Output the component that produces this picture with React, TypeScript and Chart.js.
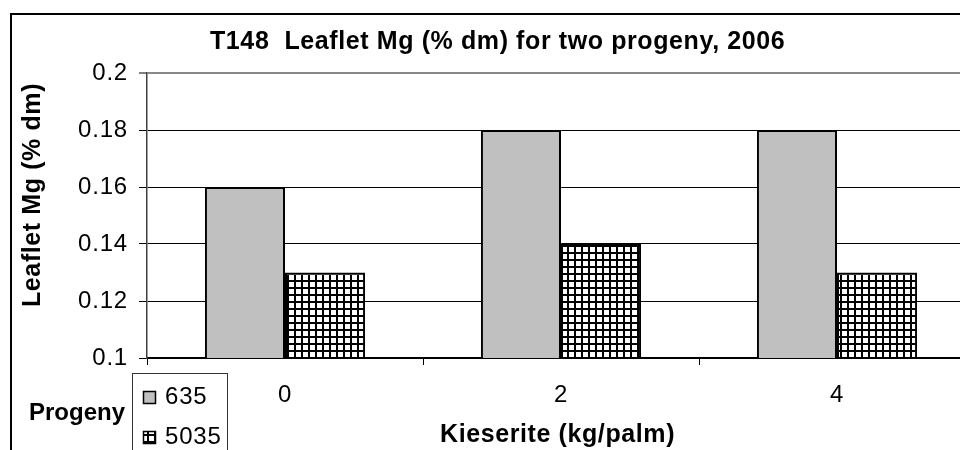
import { useEffect, useRef } from 'react';
import { Chart, registerables } from 'chart.js';

Chart.register(...registerables);

const categories = ['0', '2', '4'];
const seriesNames = ['635', '5035'];
const progeny635 = [0.16, 0.18, 0.18];
const progeny5035 = [0.13, 0.14, 0.13];
const yTicks = [0.1, 0.12, 0.14, 0.16, 0.18, 0.2];
const titleText = 'T148  Leaflet Mg (% dm) for two progeny, 2006';
const yTitleText = 'Leaflet Mg (% dm)';
const xTitleText = 'Kieserite (kg/palm)';
const legendTitleText = 'Progeny';

const FAMILY = '"Liberation Sans", Arial, Helvetica, sans-serif';

function makePattern(): CanvasPattern | string {
  const c = document.createElement('canvas');
  c.width = 7;
  c.height = 7;
  const g = c.getContext('2d');
  if (!g) return '#888';
  g.fillStyle = '#fff';
  g.fillRect(0, 0, 7, 7);
  g.fillStyle = '#000';
  g.fillRect(0, 0, 7, 2);
  g.fillRect(0, 0, 2, 7);
  const p = g.createPattern(c, 'repeat');
  return p || '#888';
}

export default function App() {
  const ref = useRef<HTMLCanvasElement>(null);

  useEffect(() => {
    if (!ref.current) return;
    const pattern = makePattern();
    const gray = '#c0c0c0';

    const decor = {
      id: 'decor',
      beforeDraw(chart: any) {
        const ctx = chart.ctx;
        ctx.save();
        ctx.fillStyle = '#fff';
        ctx.fillRect(0, 0, chart.width, chart.height);
        ctx.restore();
        ctx.letterSpacing = '0.8px';
      },
      afterDraw(chart: any) {
        const ctx = chart.ctx as CanvasRenderingContext2D;
        ctx.save();
        // outer frame
        ctx.letterSpacing = '0px';
        ctx.strokeStyle = '#000';
        ctx.lineWidth = 2;
        ctx.strokeRect(11, 14, 1300, 1300);

        ctx.fillStyle = '#000';
        ctx.textAlign = 'left';
        ctx.textBaseline = 'alphabetic';
        ctx.font = 'bold 25px ' + FAMILY;
        ctx.letterSpacing = '0.6px';
        // chart title
        ctx.fillText(titleText, 210, 49);
        // x axis title
        ctx.fillText(xTitleText, 440, 442);
        // y axis title
        ctx.save();
        ctx.translate(40, 307);
        ctx.rotate(-Math.PI / 2);
        ctx.fillText(yTitleText, 0, 0);
        ctx.restore();
        // legend title
        ctx.font = 'bold 24px ' + FAMILY;
        ctx.letterSpacing = '0px';
        ctx.fillText(legendTitleText, 29, 420);

        // legend box
        ctx.strokeStyle = '#333';
        ctx.lineWidth = 1;
        ctx.strokeRect(132.5, 373.5, 95, 200);
        const fills = [gray, pattern];
        const rows = [391, 431];
        ctx.font = '24px ' + FAMILY;
        ctx.letterSpacing = '0.8px';
        seriesNames.forEach((name, i) => {
          ctx.fillStyle = fills[i] as any;
          ctx.fillRect(143, rows[i], 13, 13);
          ctx.strokeStyle = '#000';
          ctx.lineWidth = 1.5;
          ctx.strokeRect(143.5, rows[i] + 0.5, 12, 12);
          ctx.fillStyle = '#000';
          ctx.fillText(name, 165, rows[i] + 13);
        });
        ctx.restore();
        ctx.letterSpacing = '0px';
      },
    };

    const chart = new Chart(ref.current, {
      type: 'bar',
      data: {
        labels: categories,
        datasets: [
          {
            label: seriesNames[0],
            data: progeny635,
            backgroundColor: gray,
            borderColor: '#000',
            borderWidth: 2,
            categoryPercentage: 0.58,
            barPercentage: 1,
          },
          {
            label: seriesNames[1],
            data: progeny5035,
            backgroundColor: pattern as any,
            borderColor: '#000',
            borderWidth: 2,
            categoryPercentage: 0.58,
            barPercentage: 1,
          },
        ],
      },
      options: {
        responsive: false,
        devicePixelRatio: 1,
        animation: false,
        layout: { padding: { left: 0, top: 73, right: 25, bottom: 0 } },
        plugins: {
          legend: { display: false },
          title: { display: false },
          tooltip: { enabled: false },
        },
        scales: {
          x: {
            type: 'category',
            offset: true,
            grid: {
              offset: true,
              drawOnChartArea: false,
              drawTicks: true,
              tickLength: 7,
              color: '#000',
              lineWidth: 1,
            },
            border: { display: true, color: '#000', width: 1.5 },
            ticks: {
              font: { family: FAMILY, size: 24 },
              color: '#000',
              padding: 16,
              maxRotation: 0,
              autoSkip: false,
            },
            afterFit: (s: any) => {
              s.height = 112;
            },
          },
          y: {
            min: 0.1,
            max: 0.2,
            afterBuildTicks: (s: any) => {
              s.ticks = yTicks.map((v) => ({ value: v }));
            },
            grid: {
              color: (c: any) => (c.tick && Math.abs(c.tick.value - 0.2) < 1e-9 ? '#888' : '#000'),
              lineWidth: (c: any) => (c.tick && Math.abs(c.tick.value - 0.2) < 1e-9 ? 2 : 1),
              tickColor: '#000',
              tickWidth: 1,
              drawTicks: true,
              tickLength: 8,
            },
            border: { display: true, color: '#404040', width: 1.5 },
            ticks: {
              font: { family: FAMILY, size: 24 },
              color: '#000',
              padding: 11,
              callback: (v: any) => String(Number(Number(v).toFixed(2))),
            },
            afterFit: (s: any) => {
              s.width = 147;
            },
          },
        },
      },
      plugins: [decor],
    });

    return () => chart.destroy();
  }, []);

  return (
    <div
      style={{
        position: 'absolute',
        left: 0,
        top: 0,
        width: 960,
        height: 450,
        overflow: 'hidden',
        background: '#fff',
      }}
    >
      <canvas ref={ref} width={1000} height={470} style={{ display: 'block', width: 1000, height: 470 }} />
    </div>
  );
}
